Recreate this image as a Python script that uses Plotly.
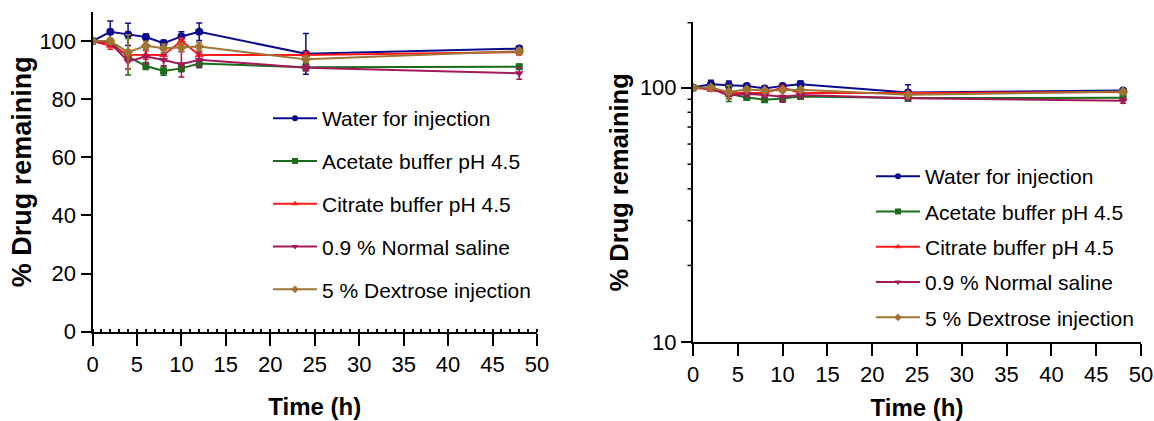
import math
import plotly.graph_objects as go

# ---------------- data ----------------
time_h = [0, 2, 4, 6, 8, 10, 12, 24, 48]
series_names = ["Water for injection", "Acetate buffer pH 4.5", "Citrate buffer pH 4.5",
                "0.9 % Normal saline", "5 % Dextrose injection"]

water = [100, 103.2, 102.3, 101.4, 99.3, 101.6, 103.2, 95.6, 97.4]
water_err = [0.5, 3.7, 3.8, 1.0, 1.0, 1.6, 3.0, 7.0, 0.8]
acetate = [100, 99.6, 94.6, 91.4, 89.7, 90.6, 92.3, 91.0, 91.2]
acetate_err = [0.5, 1.0, 6.3, 1.2, 1.5, 1.2, 1.5, 1.2, 0.8]
citrate = [100, 98.4, 95.3, 95.2, 95.2, 100.0, 95.2, 95.2, 96.2]
citrate_err = [0.5, 1.2, 1.5, 1.5, 1.8, 1.0, 1.5, 1.0, 1.0]
saline = [100, 99.4, 93.0, 94.7, 93.5, 92.0, 93.6, 90.8, 88.9]
saline_err = [0.5, 1.0, 2.5, 2.5, 2.0, 4.4, 2.5, 1.0, 2.0]
dextrose = [100, 100.0, 96.2, 98.4, 97.5, 97.8, 98.1, 93.7, 96.5]
dextrose_err = [0.5, 1.0, 6.0, 1.5, 1.5, 1.5, 1.5, 1.0, 1.0]

values = [water, acetate, citrate, saline, dextrose]
errors = [water_err, acetate_err, citrate_err, saline_err, dextrose_err]

left_yticks = [0, 20, 40, 60, 80, 100]
xticks = [0, 5, 10, 15, 20, 25, 30, 35, 40, 45, 50]
right_yticks = [10, 100]
right_minor = [20, 30, 40, 50, 60, 70, 80, 90, 180]

# ---------------- styles ----------------
colors = ["#0B0B8C", "#1A6B1A", "#FF1A1A", "#A3195B", "#A07434"]
symbols = ["circle", "square", "triangle-up", "triangle-down", "diamond"]
sizes = [8, 7, 8, 8, 8]
FONT = "Liberation Sans, Arial, sans-serif"
W, H = 1154, 421

fig = go.Figure()

for axis_idx, (xa, ya, lg) in enumerate([("x", "y", "legend"), ("x2", "y2", "legend2")]):
    for i in range(5):
        fig.add_trace(go.Scatter(
            x=time_h, y=values[i], xaxis=xa, yaxis=ya, mode="lines+markers",
            line=dict(color=colors[i], width=2),
            marker=dict(symbol=symbols[i], size=sizes[i], color=colors[i]),
            error_y=dict(type="data", array=errors[i], color=colors[i], thickness=1.5, width=3),
            showlegend=False, name=series_names[i],
        ))
    for i in range(5):
        fig.add_trace(go.Scatter(
            x=[None], y=[None], xaxis=xa, yaxis=ya, mode="lines+markers",
            line=dict(color=colors[i], width=2),
            marker=dict(symbol=symbols[i], size=6, color=colors[i]),
            name=series_names[i], legend=lg, legendgroup=f"{lg}{i}", showlegend=True,
        ))

def px_x(p):
    return p / W

def px_y(p):
    return 1 - p / H

axis_common = dict(showline=True, linecolor="black", linewidth=2, ticks="outside",
                   tickcolor="black", tickwidth=1.5, showgrid=False, zeroline=False,
                   tickfont=dict(family=FONT, size=22, color="black"), automargin=False,
                   ticklabeloverflow="allow")

right_y_range = [1, 2.2553]
right_axis_px = 693

# minor ticks of the log axis (short tick marks on the axis line)
minor_shapes = []
for v in right_minor:
    frac = (math.log10(v) - right_y_range[0]) / (right_y_range[1] - right_y_range[0])
    minor_shapes.append(dict(type="line", xref="paper", yref="y2 domain",
                             x0=px_x(right_axis_px - 5.5), x1=px_x(right_axis_px),
                             y0=frac, y1=frac, line=dict(color="black", width=1.5)))

fig.update_layout(
    width=W, height=H, margin=dict(l=0, r=0, t=0, b=0),
    paper_bgcolor="white", plot_bgcolor="white",
    shapes=minor_shapes,
    xaxis=dict(domain=[px_x(92.5), px_x(537)], range=[0, 50], anchor="y",
               tickvals=xticks, ticklen=12,
               minor=dict(dtick=1, ticks="inside", ticklen=3, tickcolor="black", tickwidth=1.5),
               title=dict(text="Time (h)", font=dict(family=FONT, size=24, color="black", weight="bold"),
                          standoff=22),
               **axis_common),
    yaxis=dict(domain=[px_y(331.7), px_y(12)], range=[0, 110], anchor="x",
               tickvals=left_yticks, ticklen=10,
               title=dict(text="% Drug remaining", font=dict(family=FONT, size=27, color="black", weight="bold"),
                          standoff=0),
               **axis_common),
    xaxis2=dict(domain=[px_x(right_axis_px), px_x(1141)], range=[0, 50], anchor="y2",
                tickvals=xticks, ticklen=12,
                title=dict(text="Time (h)", font=dict(family=FONT, size=24, color="black", weight="bold"),
                           standoff=20),
                **axis_common),
    yaxis2=dict(domain=[px_y(342), px_y(22.7)], type="log", range=right_y_range, anchor="x2",
                tickvals=right_yticks, ticktext=["10", "100"], ticklen=10,
                title=dict(text="% Drug remaining", font=dict(family=FONT, size=25.5, color="black", weight="bold"),
                           standoff=4),
                **axis_common),
    legend=dict(x=px_x(268), y=px_y(98), xanchor="left", yanchor="top",
                font=dict(family=FONT, size=21, color="black"), traceorder="grouped",
                tracegroupgap=12.5, bgcolor="rgba(0,0,0,0)", itemwidth=44),
    legend2=dict(x=px_x(871), y=px_y(156), xanchor="left", yanchor="top",
                 font=dict(family=FONT, size=21, color="black"), traceorder="grouped",
                 tracegroupgap=5, bgcolor="rgba(0,0,0,0)", itemwidth=44),
)

fig.write_html("out.html")
